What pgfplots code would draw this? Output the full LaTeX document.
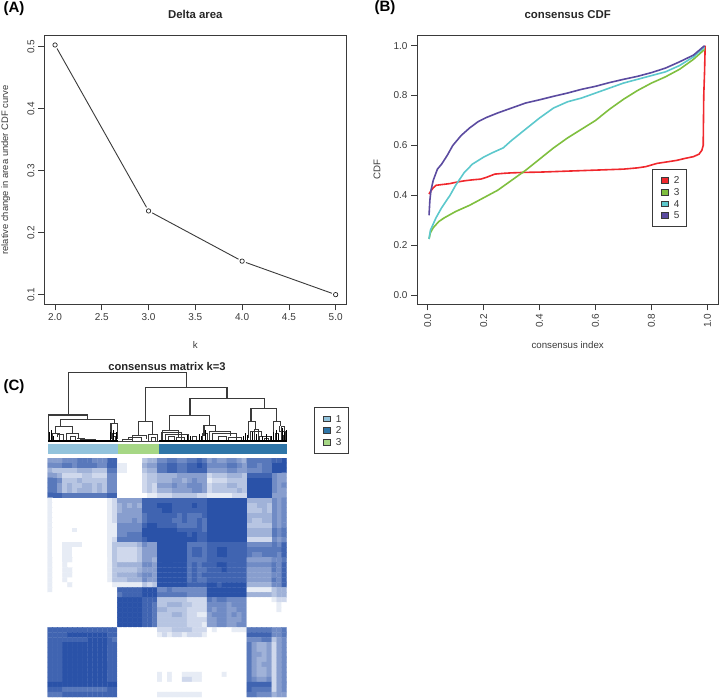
\documentclass[border=0pt]{standalone}
\usepackage{fontspec}
\setmainfont{Liberation Sans}
\usepackage{pgfplots}
\pgfplotsset{compat=1.18}
\definecolor{ink}{HTML}{3A3A3A}
\definecolor{c2}{HTML}{F0282D}
\definecolor{c3}{HTML}{7FBF3F}
\definecolor{c4}{HTML}{5CC8CC}
\definecolor{c5}{HTML}{5B4BA0}
\definecolor{k1}{HTML}{92C3DC}
\definecolor{k2}{HTML}{2E75A8}
\definecolor{k3}{HTML}{A6D785}
\pgfplotsset{
  colormap={whiteblue}{rgb255(0)=(255,255,255) rgb255(9)=(42,82,168)},
  rbox/.style={
    scale only axis, anchor=south west,
    axis line style={draw=ink,line width=0.9pt},
    tick style={draw=ink,line width=0.7pt},
    tick align=outside, tick pos=left, major tick length=6pt,
    ticklabel style={font=\fontsize{10}{12}\selectfont,text=ink},
    label style={font=\fontsize{9.7}{12}\selectfont,text=ink},
    title style={font=\fontsize{11.4}{13}\selectfont\bfseries,text=black!85,at={(0.5,1)},anchor=base,yshift=11.5pt},
    /pgf/number format/assume math mode=true,
    /pgf/number format/fixed,/pgf/number format/fixed zerofill,/pgf/number format/precision=1,
  },
  keybox/.style={legend image code/.code={\path (0pt,0pt) (14.5pt,0pt);\draw[draw=ink,line width=0.5pt,fill=#1] (2pt,0.6pt) rectangle (9pt,6.4pt);}},
  keystyle/.style={
    draw=ink,line width=0.8pt,font=\fontsize{10}{11}\selectfont,text=ink,fill=white,
    row sep=4.3pt,inner xsep=6.5pt,inner ysep=7.5pt,
    nodes={inner sep=0pt,text height=7pt,text depth=0pt,anchor=base west},
  },
}
\begin{document}
\begin{tikzpicture}
\path[use as bounding box] (0,0) rectangle (720pt,697pt);

% (A) delta area
\begin{axis}[rbox,at={(44pt,392.7pt)},width=302.7pt,height=268.6pt,
  title={Delta area},
  xmin=1.882,xmax=5.118,ymin=0.0844,ymax=0.5177,
  xtick={2,2.5,3,3.5,4,4.5,5},ytick={0.1,0.2,0.3,0.4,0.5},
  yticklabel style={rotate=90,anchor=south,yshift=0pt},
  xlabel={k},ylabel={relative change in area under CDF curve},
  xlabel style={at={(axis description cs:0.5,-0.1515)},anchor=center},
  ylabel style={at={(axis description cs:-0.1265,0.5)},anchor=center,font=\fontsize{9.4}{12}\selectfont},
]
\addplot[ink,line width=0.9pt] coordinates {(2,0.5027)(3,0.235)(4,0.154)(5,0.1)};
\addplot[white,only marks,mark=*,mark size=4pt,mark options={draw=white,fill=white}] coordinates {(2,0.5027)(3,0.235)(4,0.154)(5,0.1)};
\addplot[black!85,only marks,mark=o,mark size=2.2pt,mark options={draw=black!85,line width=0.7pt}] coordinates {(2,0.5027)(3,0.235)(4,0.154)(5,0.1)};
\end{axis}

% (B) consensus CDF
\begin{axis}[rbox,at={(417pt,392.7pt)},width=301.3pt,height=268.6pt,
  title={consensus CDF},
  xmin=-0.038,xmax=1.039,ymin=-0.037,ymax=1.04,
  xtick={0,0.2,0.4,0.6,0.8,1},ytick={0,0.2,0.4,0.6,0.8,1},
  xticklabel style={rotate=90,anchor=east},
  xlabel={consensus index},ylabel={CDF},
  xlabel style={at={(axis description cs:0.5,-0.1515)},anchor=center},
  ylabel style={at={(axis description cs:-0.1328,0.5)},anchor=center},
  legend style={keystyle,at={(0.779,0.504)},anchor=north west},legend cell align=left,
]
\addlegendimage{keybox=c2}\addlegendentry{2}
\addlegendimage{keybox=c3}\addlegendentry{3}
\addlegendimage{keybox=c4}\addlegendentry{4}
\addlegendimage{keybox=c5}\addlegendentry{5}
\addplot[forget plot,c2,line width=1.6pt] coordinates {(0.005,0.405)(0.01,0.415)(0.02,0.43)(0.03,0.44)(0.05,0.443)(0.08,0.447)(0.1,0.452)(0.13,0.458)(0.16,0.462)(0.19,0.465)(0.21,0.472)(0.24,0.485)(0.27,0.488)(0.3,0.49)(0.35,0.492)(0.4,0.493)(0.5,0.497)(0.6,0.501)(0.7,0.505)(0.75,0.51)(0.78,0.515)(0.82,0.528)(0.85,0.533)(0.89,0.54)(0.92,0.548)(0.95,0.555)(0.97,0.565)(0.98,0.58)(0.985,0.6)(0.987,0.8)(0.99,0.9)(0.992,1.0)};
\addplot[forget plot,c3,line width=1.6pt] coordinates {(0.005,0.225)(0.01,0.25)(0.02,0.27)(0.04,0.295)(0.06,0.31)(0.1,0.335)(0.15,0.36)(0.2,0.39)(0.25,0.42)(0.3,0.46)(0.35,0.50)(0.4,0.545)(0.45,0.59)(0.5,0.63)(0.55,0.665)(0.6,0.70)(0.65,0.745)(0.7,0.785)(0.75,0.82)(0.8,0.85)(0.85,0.875)(0.9,0.905)(0.95,0.945)(0.99,0.985)};
\addplot[forget plot,c4,line width=1.6pt] coordinates {(0.005,0.225)(0.01,0.26)(0.03,0.31)(0.05,0.35)(0.08,0.40)(0.1,0.44)(0.13,0.49)(0.16,0.525)(0.2,0.553)(0.23,0.57)(0.27,0.59)(0.3,0.62)(0.35,0.665)(0.4,0.71)(0.45,0.75)(0.5,0.775)(0.55,0.79)(0.6,0.81)(0.65,0.83)(0.7,0.85)(0.75,0.865)(0.8,0.88)(0.85,0.895)(0.9,0.92)(0.95,0.955)(0.99,0.995)};
\addplot[forget plot,c5,line width=1.6pt] coordinates {(0.005,0.32)(0.008,0.38)(0.012,0.42)(0.02,0.46)(0.035,0.505)(0.05,0.525)(0.07,0.56)(0.09,0.60)(0.12,0.64)(0.15,0.67)(0.18,0.695)(0.21,0.712)(0.25,0.73)(0.3,0.75)(0.35,0.77)(0.4,0.783)(0.45,0.797)(0.5,0.81)(0.55,0.825)(0.6,0.837)(0.65,0.852)(0.7,0.865)(0.75,0.877)(0.8,0.892)(0.85,0.91)(0.9,0.935)(0.95,0.962)(0.99,1.0)};
\end{axis}

% (C) dendrogram and class bar, in picture pixels
\begin{axis}[scale only axis,anchor=south west,at={(47.7pt,241pt)},width=239pt,height=86pt,
  hide axis,clip=false,xmin=47.7,xmax=286.7,ymin=370,ymax=456,y dir=reverse,
  unbounded coords=jump,
  legend style={keystyle,at={(axis cs:313.7,407.3)},anchor=north west},legend cell align=left,
]
\addlegendimage{keybox=k1}\addlegendentry{1}
\addlegendimage{keybox=k2}\addlegendentry{2}
\addlegendimage{keybox=k3}\addlegendentry{3}
\addplot[forget plot,fill=k1,draw=none] coordinates {(47.7,443.7)(118.3,443.7)(118.3,454)(47.7,454)} --cycle;
\addplot[forget plot,fill=k3,draw=none] coordinates {(118.3,443.7)(159.3,443.7)(159.3,454)(118.3,454)} --cycle;
\addplot[forget plot,fill=k2,draw=none] coordinates {(159.3,443.7)(286.7,443.7)(286.7,454)(159.3,454)} --cycle;
% upper branches
\addplot[forget plot,ink,line width=1.1pt] coordinates {
(68.3,415)(68.3,372.3)(186.5,372.3)(186.5,387.5)(nan,nan)
(48.7,441)(48.7,415)(87.7,415)(87.7,419.3)(nan,nan)
(60.3,426.7)(60.3,419.3)(114.3,419.3)(114.3,423.7)(nan,nan)
(111,439)(111,423.7)(117.3,423.7)(117.3,439)(nan,nan)
(145.7,421.7)(145.7,387.5)(227,387.5)(227,398.3)(nan,nan)
(138.3,435)(138.3,421.7)(152.7,421.7)(152.7,434.3)(nan,nan)
(169.7,430.7)(169.7,415.7)(209.3,415.7)(209.3,425.7)(nan,nan)
(190,415.7)(190,398.3)(264.3,398.3)(264.3,408.3)(nan,nan)
(251,421.7)(251,408.3)(276.7,408.3)(276.7,421.7)(nan,nan)
(248.3,438)(248.3,421.7)(255.7,421.7)(255.7,429)(nan,nan)
(273.3,438)(273.3,421.7)(280.7,421.7)(280.7,426)(nan,nan)
(204,436)(204,425.7)(215.7,425.7)(215.7,431)(nan,nan)
};
% lower forks
\addplot[forget plot,ink,line width=0.8pt] coordinates {
(55,433)(55,426.7)(72,426.7)(72,433)(nan,nan)
(52,441)(52,433)(59,433)(59,441)(nan,nan)
(57,437)(57,434)(63,434)(63,441)(nan,nan)
(66,441)(66,433)(78,433)(78,438)(nan,nan)
(70,441)(70,436)(75,436)(75,441)(nan,nan)
(77,438)(84,438)(84,441)(nan,nan)
(80,441)(80,439)(95,439)(95,441)(nan,nan)
(112,441)(112,433)(116,433)(116,441)(nan,nan)
(113.5,441)(113.5,436)(115,436)(115,441)(nan,nan)
(122,441)(122,439)(132,439)(132,441)(nan,nan)
(132.7,439)(132.7,435)(146,435)(146,439)(nan,nan)
(128,439)(128,437.5)(141,437.5)(141,441)(nan,nan)
(148,441)(148,434.3)(157,434.3)(157,441)(nan,nan)
(151,441)(151,437)(155,437)(155,441)(nan,nan)
(161,441)(161,432)(181,432)(181,441)(nan,nan)
(162,441)(162,430.7)(178,430.7)(178,437)(nan,nan)
(165,441)(165,434)(188,434)(188,441)(nan,nan)
(168,441)(168,436)(174,436)(174,441)(nan,nan)
(176,441)(176,437.5)(184,437.5)(184,441)(nan,nan)
(192,441)(192,436)(196,436)(196,441)(nan,nan)
(202,441)(202,433)(207,433)(207,441)(nan,nan)
(209,441)(209,431)(230,431)(230,436)(nan,nan)
(212,441)(212,433.5)(236,433.5)(236,441)(nan,nan)
(218,441)(218,436)(226,436)(226,441)(nan,nan)
(228,441)(228,437)(241,437)(241,441)(nan,nan)
(250,441)(250,431)(261,431)(261,436)(nan,nan)
(254,441)(254,429)(258,429)(258,441)(nan,nan)
(259,441)(259,436)(270,436)(270,441)(nan,nan)
(264,441)(264,438)(268,438)(268,441)(nan,nan)
(275,441)(275,433)(278,433)(278,441)(nan,nan)
(279,426)(279,431)(285,431)(285,441)(nan,nan)
(281,441)(281,426)(284,426)(284,441)(nan,nan)
(283,441)(283,435)(286,435)(286,441)(nan,nan)
};
% leaf rows along the foot of the tree
\addplot[forget plot,black,line width=1.4pt] coordinates {(48,441)(118,441)(nan,nan)(159,441)(287,441)};
\addplot[forget plot,black!75,line width=0.7pt] coordinates {(118,441)(159,441)};
\addplot[forget plot,black,line width=0.5pt] coordinates {
(49.5,441)(49.5,432)(nan,nan)(51,441)(51,430)(nan,nan)(53.5,441)(53.5,436)(nan,nan)(110,441)(110,432)(nan,nan)
(113,441)(113,430)(nan,nan)(116,441)(116,432)(nan,nan)(187,441)(187,435)(nan,nan)(190,441)(190,436)(nan,nan)
(199,441)(199,434)(nan,nan)(201,441)(201,436)(nan,nan)(205,441)(205,430)(nan,nan)(243,441)(243,436)(nan,nan)
(245,441)(245,433)(nan,nan)(247,441)(247,435)(nan,nan)(252,441)(252,432)(nan,nan)(256,441)(256,434)(nan,nan)
(262,441)(262,436)(nan,nan)(266,441)(266,434)(nan,nan)(271,441)(271,436)(nan,nan)(273,441)(273,432)(nan,nan)
(276,441)(276,430)(nan,nan)(278,441)(278,434)(nan,nan)(282,441)(282,428)(nan,nan)(284,441)(284,432)(nan,nan)
(286,441)(286,430)
};
\end{axis}

% (C) consensus matrix: 48 x 48 shades, row by row from the top
\begin{axis}[scale only axis,anchor=south west,at={(47.7pt,0pt)},width=239pt,height=239pt,
  hide axis,xmin=-0.5,xmax=47.5,ymin=-0.5,ymax=47.5,y dir=reverse,
  enlargelimits=false,colormap name=whiteblue,point meta min=0,point meta max=9,
]
\addplot[matrix plot*,mesh/cols=48,mesh/rows=48,point meta=explicit]
 table[row sep=crcr,header=false,x expr={\coordindex-48*floor((\coordindex+0.5)/48)},y expr={floor((\coordindex+0.5)/48)},meta index=0] {
5\\5\\5\\6\\6\\6\\7\\7\\7\\6\\6\\6\\8\\8\\0\\0\\0\\0\\0\\3\\4\\4\\6\\6\\7\\7\\6\\6\\7\\7\\8\\7\\5\\6\\5\\5\\6\\6\\5\\4\\7\\7\\7\\7\\7\\8\\8\\9\\
6\\6\\6\\7\\7\\6\\7\\7\\7\\7\\6\\6\\8\\8\\1\\1\\0\\0\\0\\4\\5\\5\\7\\7\\8\\8\\7\\7\\8\\8\\9\\8\\6\\6\\6\\6\\7\\7\\6\\5\\7\\7\\6\\7\\7\\9\\9\\9\\
4\\3\\3\\3\\3\\3\\4\\4\\4\\3\\3\\3\\7\\7\\1\\1\\0\\0\\0\\3\\4\\4\\7\\7\\8\\8\\7\\7\\8\\8\\8\\8\\5\\5\\5\\5\\6\\6\\5\\5\\6\\6\\6\\7\\7\\9\\9\\9\\
5\\5\\4\\2\\2\\2\\2\\3\\3\\2\\2\\2\\6\\6\\0\\0\\0\\0\\0\\2\\3\\3\\4\\4\\4\\4\\5\\5\\5\\5\\5\\5\\2\\3\\3\\3\\4\\4\\4\\3\\8\\8\\8\\8\\8\\6\\5\\5\\
7\\7\\6\\3\\3\\3\\4\\3\\3\\3\\3\\3\\6\\6\\0\\0\\0\\0\\0\\2\\3\\3\\4\\4\\4\\5\\5\\4\\5\\6\\5\\5\\1\\2\\2\\2\\3\\3\\3\\3\\9\\9\\9\\9\\9\\6\\5\\5\\
7\\7\\5\\3\\4\\3\\3\\4\\4\\3\\4\\3\\6\\6\\0\\0\\0\\0\\0\\2\\3\\2\\5\\5\\5\\6\\5\\5\\6\\6\\6\\5\\2\\3\\3\\3\\4\\4\\3\\3\\9\\9\\9\\9\\9\\6\\5\\6\\
7\\7\\5\\3\\4\\3\\4\\4\\4\\3\\4\\3\\6\\6\\0\\0\\0\\0\\0\\2\\3\\2\\4\\4\\4\\5\\5\\5\\5\\6\\6\\5\\2\\3\\3\\3\\3\\3\\4\\3\\9\\9\\9\\9\\9\\6\\5\\5\\
8\\8\\8\\7\\7\\7\\7\\7\\7\\7\\7\\7\\8\\8\\0\\0\\0\\0\\0\\0\\1\\1\\2\\2\\2\\3\\3\\3\\3\\3\\2\\2\\1\\1\\1\\1\\1\\2\\2\\2\\9\\9\\9\\9\\9\\5\\5\\5\\
1\\0\\0\\0\\0\\0\\0\\0\\0\\0\\0\\0\\1\\2\\5\\5\\5\\5\\5\\8\\8\\8\\8\\8\\8\\8\\8\\8\\8\\8\\8\\8\\9\\9\\9\\9\\9\\9\\9\\9\\4\\4\\4\\4\\4\\6\\5\\6\\
1\\0\\0\\0\\0\\0\\0\\0\\0\\0\\0\\0\\1\\2\\4\\5\\4\\5\\4\\8\\8\\8\\9\\9\\9\\8\\8\\8\\8\\9\\8\\8\\9\\9\\9\\9\\9\\9\\9\\9\\3\\3\\4\\4\\3\\6\\5\\6\\
1\\0\\0\\0\\0\\0\\0\\0\\0\\0\\0\\0\\1\\2\\4\\5\\5\\5\\5\\8\\8\\8\\8\\9\\9\\8\\8\\8\\8\\8\\8\\8\\9\\9\\9\\9\\9\\9\\9\\9\\3\\3\\3\\4\\3\\6\\5\\6\\
1\\0\\0\\0\\0\\0\\0\\0\\0\\0\\0\\0\\1\\2\\5\\5\\5\\5\\5\\7\\8\\8\\8\\8\\8\\8\\7\\8\\7\\7\\7\\8\\9\\9\\9\\9\\9\\9\\9\\9\\4\\4\\4\\4\\4\\6\\5\\6\\
1\\0\\0\\0\\0\\0\\0\\0\\0\\0\\0\\0\\1\\2\\5\\5\\5\\6\\5\\7\\8\\8\\8\\8\\8\\7\\7\\8\\7\\7\\8\\7\\9\\9\\9\\9\\9\\9\\9\\9\\4\\3\\3\\4\\4\\6\\5\\6\\
1\\0\\0\\0\\0\\0\\0\\0\\0\\0\\0\\0\\1\\1\\6\\6\\6\\6\\6\\8\\9\\9\\8\\8\\8\\8\\7\\7\\7\\7\\8\\7\\9\\9\\9\\9\\9\\9\\9\\9\\3\\3\\3\\3\\3\\6\\5\\6\\
1\\0\\0\\0\\0\\1\\0\\0\\0\\0\\0\\0\\1\\1\\6\\6\\6\\6\\6\\9\\9\\9\\9\\9\\9\\9\\8\\8\\8\\8\\8\\7\\9\\9\\9\\9\\9\\9\\9\\9\\4\\4\\4\\4\\4\\7\\6\\7\\
1\\0\\0\\0\\0\\0\\0\\0\\0\\0\\0\\0\\1\\1\\6\\6\\7\\7\\7\\9\\9\\9\\9\\9\\9\\9\\9\\9\\8\\9\\8\\8\\9\\9\\9\\9\\9\\9\\9\\9\\4\\4\\4\\4\\4\\7\\6\\7\\
1\\0\\0\\0\\0\\0\\0\\0\\0\\0\\0\\0\\1\\2\\7\\7\\7\\7\\7\\8\\9\\9\\9\\9\\9\\9\\9\\9\\9\\9\\8\\8\\9\\9\\9\\9\\9\\9\\9\\9\\2\\2\\2\\2\\2\\6\\5\\6\\
1\\0\\0\\1\\1\\1\\1\\0\\0\\0\\0\\0\\1\\3\\3\\3\\3\\3\\4\\6\\5\\5\\9\\9\\9\\9\\9\\9\\7\\7\\7\\7\\8\\8\\8\\8\\8\\8\\8\\8\\6\\6\\6\\6\\6\\7\\6\\8\\
1\\0\\0\\1\\1\\0\\0\\0\\0\\0\\0\\0\\1\\3\\2\\2\\2\\2\\3\\5\\5\\5\\9\\9\\9\\9\\9\\9\\7\\8\\8\\7\\8\\8\\9\\9\\8\\8\\8\\8\\7\\7\\7\\7\\7\\7\\7\\8\\
1\\0\\0\\1\\1\\0\\0\\0\\0\\0\\0\\0\\1\\3\\2\\2\\2\\2\\3\\5\\5\\5\\9\\9\\9\\9\\9\\9\\7\\8\\8\\7\\8\\8\\9\\9\\8\\8\\8\\8\\7\\6\\6\\7\\7\\7\\6\\8\\
1\\0\\0\\1\\1\\0\\0\\0\\0\\0\\0\\0\\1\\3\\2\\2\\2\\2\\3\\5\\5\\4\\9\\9\\9\\9\\9\\9\\7\\7\\7\\7\\8\\8\\8\\8\\8\\8\\8\\8\\5\\5\\5\\5\\5\\6\\6\\7\\
1\\0\\0\\1\\0\\0\\0\\0\\0\\0\\0\\0\\1\\3\\4\\4\\4\\4\\4\\6\\6\\5\\9\\9\\9\\9\\9\\9\\7\\8\\7\\8\\8\\8\\9\\9\\8\\8\\8\\8\\6\\6\\6\\6\\6\\7\\6\\8\\
1\\0\\0\\1\\1\\0\\0\\0\\0\\0\\0\\0\\1\\3\\3\\3\\3\\3\\4\\5\\5\\5\\9\\9\\9\\9\\9\\9\\7\\8\\7\\7\\8\\8\\8\\9\\8\\8\\8\\8\\5\\5\\5\\5\\5\\7\\6\\8\\
1\\0\\0\\1\\1\\0\\0\\0\\0\\0\\0\\0\\1\\3\\4\\4\\4\\4\\5\\6\\6\\5\\9\\9\\9\\9\\9\\9\\7\\8\\7\\8\\8\\8\\8\\8\\8\\8\\8\\8\\5\\5\\5\\5\\5\\6\\6\\8\\
1\\0\\0\\1\\0\\0\\0\\0\\0\\0\\0\\0\\1\\3\\3\\3\\4\\4\\4\\6\\5\\5\\9\\9\\9\\9\\9\\9\\7\\8\\7\\7\\8\\8\\8\\8\\8\\8\\8\\8\\5\\5\\5\\5\\5\\7\\6\\8\\
1\\0\\0\\0\\1\\0\\0\\0\\0\\0\\0\\0\\0\\1\\1\\1\\1\\1\\1\\3\\2\\3\\9\\9\\9\\9\\9\\9\\8\\8\\8\\8\\9\\9\\8\\9\\9\\9\\9\\9\\4\\4\\4\\4\\4\\6\\6\\8\\
1\\0\\0\\0\\0\\0\\0\\0\\0\\0\\0\\0\\0\\0\\8\\8\\8\\8\\8\\9\\9\\9\\6\\6\\7\\6\\6\\6\\6\\6\\6\\6\\9\\9\\9\\9\\9\\9\\9\\9\\1\\1\\1\\1\\1\\3\\4\\4\\
0\\0\\0\\0\\0\\0\\0\\0\\0\\0\\0\\0\\0\\0\\7\\8\\8\\8\\8\\9\\9\\9\\7\\7\\7\\7\\7\\7\\6\\6\\6\\6\\9\\9\\9\\9\\9\\9\\9\\9\\4\\4\\4\\4\\4\\3\\4\\4\\
0\\0\\0\\0\\0\\0\\0\\0\\0\\0\\0\\0\\0\\0\\9\\9\\9\\9\\9\\8\\8\\8\\3\\3\\3\\3\\3\\3\\2\\2\\2\\2\\7\\6\\7\\7\\6\\6\\6\\6\\0\\0\\0\\0\\0\\1\\2\\2\\
0\\0\\0\\0\\0\\0\\0\\0\\0\\0\\0\\0\\0\\0\\9\\9\\9\\9\\9\\8\\8\\7\\3\\3\\4\\4\\4\\3\\3\\2\\2\\2\\6\\6\\6\\6\\5\\6\\6\\6\\0\\0\\0\\0\\0\\0\\1\\0\\
0\\0\\0\\0\\0\\0\\0\\0\\0\\0\\0\\0\\0\\0\\9\\9\\9\\9\\9\\8\\8\\7\\4\\4\\3\\3\\3\\3\\2\\2\\2\\2\\6\\5\\6\\6\\5\\5\\6\\6\\0\\0\\0\\0\\0\\0\\1\\0\\
0\\0\\0\\0\\0\\0\\0\\0\\0\\0\\0\\0\\0\\0\\9\\9\\9\\9\\9\\8\\8\\7\\3\\3\\3\\4\\4\\3\\2\\2\\1\\1\\5\\6\\6\\6\\5\\6\\5\\6\\0\\0\\0\\0\\0\\0\\0\\0\\
0\\0\\0\\0\\0\\0\\0\\0\\0\\0\\0\\0\\0\\0\\9\\9\\9\\9\\9\\8\\8\\7\\3\\3\\3\\3\\3\\3\\2\\2\\2\\2\\5\\5\\6\\6\\5\\5\\5\\6\\0\\0\\0\\0\\0\\0\\0\\0\\
0\\0\\0\\0\\0\\0\\0\\0\\0\\0\\0\\0\\0\\0\\9\\9\\9\\9\\9\\8\\8\\7\\3\\3\\3\\3\\3\\3\\2\\2\\2\\1\\5\\5\\6\\6\\5\\5\\6\\6\\0\\0\\0\\0\\0\\0\\0\\0\\
8\\8\\8\\8\\8\\8\\8\\8\\8\\8\\8\\8\\8\\8\\0\\0\\0\\0\\0\\0\\0\\0\\2\\2\\2\\3\\3\\3\\3\\2\\2\\2\\0\\1\\0\\0\\0\\1\\1\\1\\7\\7\\7\\7\\7\\6\\6\\7\\
8\\8\\8\\8\\9\\9\\9\\9\\9\\9\\9\\9\\8\\8\\0\\0\\0\\0\\0\\0\\0\\0\\1\\2\\1\\2\\2\\1\\2\\2\\2\\1\\0\\0\\0\\0\\0\\0\\0\\0\\8\\8\\8\\8\\8\\6\\6\\7\\
8\\8\\8\\8\\8\\8\\8\\8\\9\\9\\9\\9\\8\\7\\0\\0\\0\\0\\0\\0\\0\\0\\0\\0\\0\\0\\0\\0\\0\\0\\0\\0\\0\\0\\0\\0\\0\\0\\0\\0\\6\\6\\6\\7\\7\\3\\5\\6\\
8\\8\\8\\9\\9\\9\\9\\9\\9\\9\\9\\9\\8\\8\\0\\0\\0\\0\\0\\0\\0\\0\\0\\0\\0\\0\\0\\0\\0\\0\\0\\0\\0\\0\\0\\0\\0\\0\\0\\0\\7\\5\\4\\4\\5\\2\\5\\6\\
8\\8\\8\\9\\9\\9\\9\\9\\9\\9\\9\\9\\8\\8\\0\\0\\0\\0\\0\\0\\0\\0\\0\\0\\0\\0\\0\\0\\0\\0\\0\\0\\0\\0\\0\\0\\0\\0\\0\\0\\7\\5\\4\\4\\5\\2\\5\\6\\
8\\8\\8\\9\\9\\9\\9\\9\\9\\9\\9\\9\\8\\8\\0\\0\\0\\0\\0\\0\\0\\0\\0\\0\\0\\0\\0\\0\\0\\0\\0\\0\\0\\0\\0\\0\\0\\0\\0\\0\\7\\5\\5\\4\\5\\2\\5\\6\\
8\\8\\8\\9\\9\\9\\9\\9\\9\\9\\9\\9\\8\\8\\0\\0\\0\\0\\0\\0\\0\\0\\0\\0\\0\\0\\0\\0\\0\\0\\0\\0\\0\\0\\0\\0\\0\\0\\0\\0\\7\\5\\4\\4\\5\\2\\5\\6\\
8\\8\\8\\9\\9\\9\\9\\9\\9\\9\\9\\9\\8\\8\\0\\0\\0\\0\\0\\0\\0\\0\\0\\0\\0\\0\\0\\0\\0\\0\\0\\0\\0\\0\\0\\0\\0\\0\\0\\0\\7\\5\\4\\5\\5\\2\\5\\6\\
8\\8\\8\\9\\9\\9\\9\\9\\9\\9\\9\\9\\8\\8\\0\\0\\0\\0\\0\\0\\0\\0\\0\\0\\0\\0\\0\\0\\0\\0\\0\\0\\0\\0\\0\\0\\0\\0\\0\\0\\7\\5\\4\\4\\5\\2\\5\\6\\
8\\8\\8\\9\\9\\9\\9\\9\\9\\9\\9\\9\\8\\8\\0\\0\\0\\0\\0\\0\\0\\0\\1\\0\\1\\0\\0\\1\\1\\1\\1\\0\\0\\0\\0\\1\\0\\0\\0\\0\\7\\5\\4\\4\\5\\2\\5\\6\\
8\\8\\8\\9\\9\\9\\9\\9\\9\\9\\9\\9\\8\\8\\0\\0\\0\\0\\0\\0\\0\\0\\1\\0\\1\\0\\0\\2\\2\\1\\1\\0\\0\\0\\0\\0\\0\\0\\0\\0\\7\\6\\5\\5\\6\\2\\5\\6\\
9\\9\\9\\9\\9\\9\\9\\9\\9\\9\\9\\9\\9\\9\\0\\0\\0\\0\\0\\0\\0\\0\\0\\0\\0\\0\\0\\0\\0\\0\\0\\0\\0\\0\\0\\0\\0\\0\\0\\0\\8\\8\\8\\8\\8\\2\\5\\6\\
8\\8\\8\\7\\7\\7\\7\\7\\7\\7\\7\\7\\8\\8\\0\\0\\0\\0\\0\\0\\0\\0\\0\\0\\0\\0\\0\\0\\0\\0\\0\\0\\0\\0\\0\\0\\0\\0\\0\\0\\8\\7\\7\\7\\7\\2\\5\\6\\
7\\7\\7\\8\\8\\8\\8\\8\\8\\8\\8\\8\\8\\8\\0\\0\\0\\0\\0\\0\\0\\0\\1\\1\\1\\1\\1\\1\\1\\1\\1\\0\\0\\0\\0\\0\\0\\0\\0\\0\\7\\7\\6\\6\\6\\4\\5\\5\\
};
\end{axis}

% panel letters and the matrix title
\node[anchor=base west,font=\fontsize{15}{16}\selectfont\bfseries] at (0pt,684.5pt) {(A)};
\node[anchor=base west,font=\fontsize{15}{16}\selectfont\bfseries] at (371pt,685.5pt) {(B)};
\node[anchor=base west,font=\fontsize{15}{16}\selectfont\bfseries] at (0pt,306.5pt) {(C)};
\node[anchor=center,font=\fontsize{11.2}{13}\selectfont\bfseries,text=black!85] at (167pt,330.3pt) {consensus matrix k=3};
\end{tikzpicture}
\end{document}
